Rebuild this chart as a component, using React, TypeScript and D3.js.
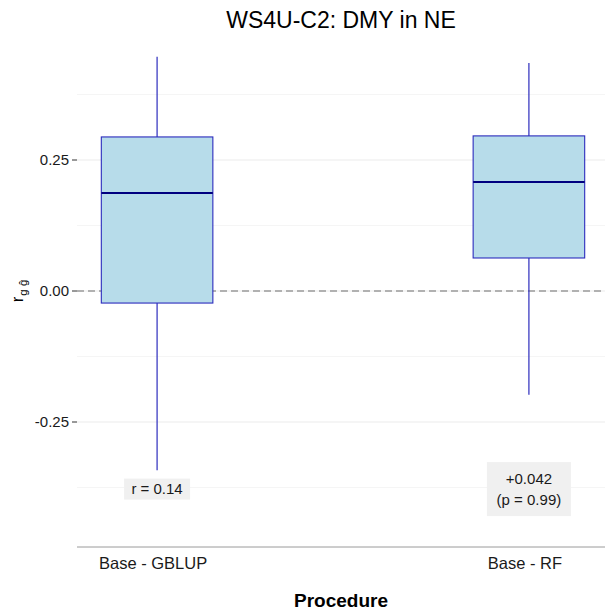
import React from "react";
import * as d3 from "d3";

// Procedure categories and their box-plot summaries
const procedures = ["Base - GBLUP", "Base - RF"];
const whiskerHigh = [0.447, 0.435];
const upperHinge = [0.294, 0.296];
const medians = [0.187, 0.208];
const lowerHinge = [-0.023, 0.063];
const whiskerLow = [-0.342, -0.198];

// Annotation labels per procedure
const annotationLines = [["r = 0.14"], ["+0.042", "(p = 0.99)"]];
const annotationValue = [-0.378, -0.378];

const majorTicks = [-0.25, 0, 0.25];
const minorTicks = [-0.375, -0.125, 0.125, 0.375];

const W = 605;
const H = 614;
const FONT = "'Liberation Sans', Arial, sans-serif";

const fmt = (v: number) => d3.format(".2f")(v).replace("\u2212", "-");

export default function App() {
  const panelLeft = 77;
  const panelRight = 605;
  const panelBottom = 547;

  const x = d3
    .scalePoint<string>()
    .domain(procedures)
    .range([panelLeft + 2, panelRight + 2])
    .padding(0.21);
  const step = x.step();
  const boxW = step * 0.3;

  const y = d3
    .scaleLinear()
    .domain([-0.25, 0.25])
    .range([422, 160]);

  const boxStroke = "#2b2bbd";

  return (
    <svg
      width={W}
      height={H}
      style={{ position: "absolute", left: 0, top: 0, background: "#fff" }}
      fontFamily={FONT}
    >
      <rect width={W} height={H} fill="#fff" />
      {/* grid */}
      {minorTicks.map((t) => (
        <line key={"mi" + t} x1={panelLeft} x2={panelRight} y1={y(t)} y2={y(t)} stroke="#f5f5f5" strokeWidth={1} />
      ))}
      {majorTicks.map((t) => (
        <line key={"ma" + t} x1={panelLeft} x2={panelRight} y1={y(t)} y2={y(t)} stroke="#ebebeb" strokeWidth={1} />
      ))}
      {/* zero reference */}
      <line x1={panelLeft} x2={panelRight} y1={y(0)} y2={y(0)} stroke="#6e6e6e" strokeWidth={1.1} strokeDasharray="7,4" />

      {/* boxes */}
      {procedures.map((p, i) => {
        const cx = x(p)!;
        return (
          <g key={p}>
            <line x1={cx} x2={cx} y1={y(whiskerHigh[i])} y2={y(upperHinge[i])} stroke={boxStroke} strokeWidth={1.2} />
            <line x1={cx} x2={cx} y1={y(lowerHinge[i])} y2={y(whiskerLow[i])} stroke={boxStroke} strokeWidth={1.2} />
            <rect
              x={cx - boxW / 2}
              y={y(upperHinge[i])}
              width={boxW}
              height={y(lowerHinge[i]) - y(upperHinge[i])}
              fill="#b7dcea"
              stroke={boxStroke}
              strokeWidth={1.1}
            />
            <line x1={cx - boxW / 2} x2={cx + boxW / 2} y1={y(medians[i])} y2={y(medians[i])} stroke="#000080" strokeWidth={2.2} />
          </g>
        );
      })}

      {/* annotations */}
      {procedures.map((p, i) => {
        const cx = x(p)!;
        const lines = annotationLines[i];
        const lh = 21;
        const cy = y(annotationValue[i]);
        const bw = i === 0 ? 66 : 84;
        const bh = lines.length === 1 ? 21 : lines.length * lh + 12;
        return (
          <g key={"a" + p}>
            <rect x={cx - bw / 2} y={cy - bh / 2} width={bw} height={bh} fill="#f0f0f0" />
            {lines.map((l, j) => (
              <text
                key={j}
                x={cx}
                y={cy - ((lines.length - 1) * lh) / 2 + j * lh}
                dy="0.35em"
                textAnchor="middle"
                fontSize={15}
                fill="#1a1a1a"
              >
                {l}
              </text>
            ))}
          </g>
        );
      })}

      {/* y axis ticks */}
      {majorTicks.map((t) => (
        <g key={"yt" + t}>
          <line x1={panelLeft - 5} x2={panelLeft} y1={y(t)} y2={y(t)} stroke="#333" strokeWidth={1} />
          <text x={panelLeft - 8} y={y(t)} dy="0.35em" textAnchor="end" fontSize={15} fill="#1a1a1a">
            {fmt(t)}
          </text>
        </g>
      ))}

      {/* x axis */}
      <line x1={panelLeft} x2={panelRight} y1={panelBottom} y2={panelBottom} stroke="#9a9a9a" strokeWidth={1} />
      {procedures.map((p) => (
        <text key={"xt" + p} x={x(p)! - 4} y={563} dy="0.35em" textAnchor="middle" fontSize={16.5} fill="#1a1a1a">
          {p}
        </text>
      ))}
      <text x={(panelLeft + panelRight) / 2} y={600} dy="0.35em" textAnchor="middle" fontSize={19} fontWeight="bold" fill="#000">
        Procedure
      </text>

      {/* y label r_{g ĝ} */}
      <g transform={`translate(23, ${y(0)}) rotate(-90)`}>
        <text textAnchor="middle" fontSize={17} fill="#000">
          r
          <tspan fontSize={11.5} dy={4} dx={1}>g ĝ</tspan>
        </text>
      </g>

      {/* title */}
      <text x={(panelLeft + panelRight) / 2} y={20} dy="0.35em" textAnchor="middle" fontSize={23} fill="#000">
        WS4U-C2: DMY in NE
      </text>
    </svg>
  );
}
